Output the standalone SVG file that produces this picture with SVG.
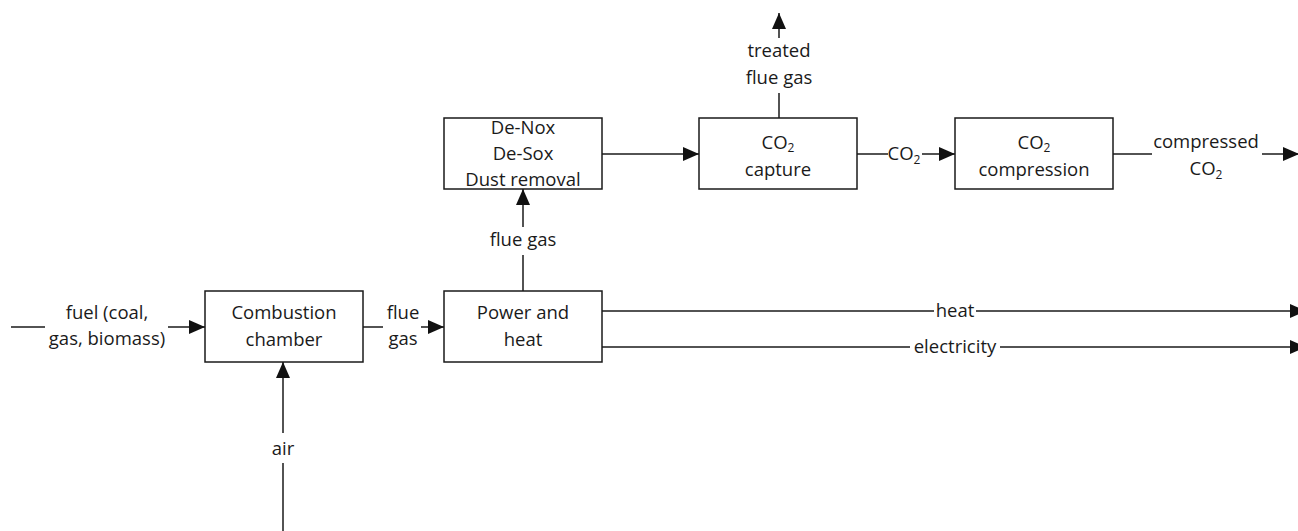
<svg xmlns="http://www.w3.org/2000/svg" width="1298" height="531" viewBox="0 0 1298 531">
<defs>
<style>
.box{fill:#fff;stroke:#1a1a1a;stroke-width:1.5}
.ln{fill:none;stroke:#1a1a1a;stroke-width:1.5}
.arr{marker-end:url(#ah)}
text{font-family:"Open Sans","Liberation Sans",sans-serif;font-size:18.5px;fill:#1a1a1a;text-anchor:middle}
.sub{font-size:12px}
</style>
<marker id="ah" markerUnits="userSpaceOnUse" markerWidth="17" markerHeight="15" refX="16" refY="7" orient="auto">
<path d="M0,0 L16,7 L0,14 z" fill="#111"/>
</marker>
</defs>
<rect width="1298" height="531" fill="#fff"/>

<g id="connectors">
<!-- fuel -->
<line class="ln" x1="11" y1="327" x2="45" y2="327"/>
<line class="ln arr" x1="168" y1="327" x2="205" y2="327"/>
<text x="107" y="319">fuel (coal,</text>
<text x="107" y="345">gas, biomass)</text>
<!-- combustion -> power -->
<line class="ln" x1="363" y1="327" x2="383" y2="327"/>
<line class="ln arr" x1="421" y1="327" x2="444" y2="327"/>
<text x="403" y="319">flue</text>
<text x="403" y="345">gas</text>
<!-- air -->
<line class="ln" x1="283" y1="531" x2="283" y2="463"/>
<line class="ln arr" x1="283" y1="433" x2="283" y2="362"/>
<text x="283" y="455">air</text>
<!-- power -> denox -->
<line class="ln" x1="523" y1="291" x2="523" y2="255"/>
<line class="ln arr" x1="523" y1="227" x2="523" y2="189"/>
<text x="523" y="246">flue gas</text>
<!-- denox -> capture -->
<line class="ln arr" x1="602" y1="154" x2="699" y2="154"/>
<!-- capture -> treated -->
<line class="ln" x1="779" y1="118" x2="779" y2="93"/>
<line class="ln arr" x1="779" y1="38" x2="779" y2="13"/>
<text x="779" y="57">treated</text>
<text x="779" y="84">flue gas</text>
<!-- capture -> compression -->
<line class="ln" x1="857" y1="154" x2="888" y2="154"/>
<line class="ln arr" x1="922" y1="154" x2="955" y2="154"/>
<text x="904" y="160">CO<tspan class="sub" dy="4">2</tspan></text>
<!-- compression -> out -->
<line class="ln" x1="1113" y1="154" x2="1152" y2="154"/>
<line class="ln arr" x1="1262" y1="154" x2="1299" y2="154"/>
<text x="1206" y="148">compressed</text>
<text x="1206" y="175">CO<tspan class="sub" dy="4">2</tspan></text>
<!-- heat / electricity -->
<line class="ln" x1="602" y1="311" x2="934" y2="311"/>
<line class="ln arr" x1="976" y1="311" x2="1306" y2="311"/>
<text x="955" y="317">heat</text>
<line class="ln" x1="602" y1="347" x2="910" y2="347"/>
<line class="ln arr" x1="1000" y1="347" x2="1306" y2="347"/>
<text x="955" y="353">electricity</text>
</g>

<g id="combustion">
<rect class="box" x="205" y="291" width="158" height="71"/>
<text x="284" y="319">Combustion</text>
<text x="284" y="346">chamber</text>
</g>
<g id="power">
<rect class="box" x="444" y="291" width="158" height="71"/>
<text x="523" y="319">Power and</text>
<text x="523" y="346">heat</text>
</g>
<g id="denox">
<rect class="box" x="444" y="118" width="158" height="71"/>
<text x="523" y="134">De-Nox</text>
<text x="523" y="160">De-Sox</text>
<text x="523" y="186">Dust removal</text>
</g>
<g id="capture">
<rect class="box" x="699" y="118" width="158" height="71"/>
<text x="778" y="149">CO<tspan class="sub" dy="3">2</tspan></text>
<text x="778" y="176">capture</text>
</g>
<g id="compression">
<rect class="box" x="955" y="118" width="158" height="71"/>
<text x="1034" y="149">CO<tspan class="sub" dy="3">2</tspan></text>
<text x="1034" y="176">compression</text>
</g>
</svg>
